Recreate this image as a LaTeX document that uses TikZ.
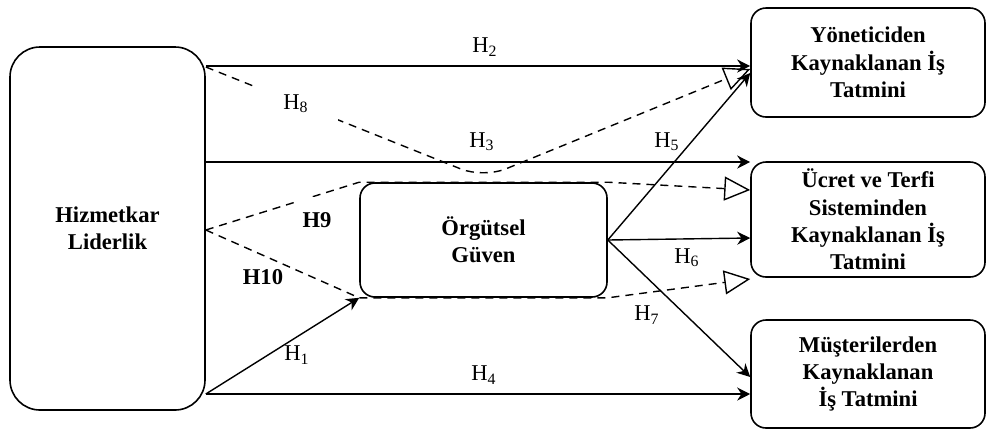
\documentclass[tikz,border=0pt]{standalone}
\usepackage{fontspec}
\setmainfont{Liberation Serif}
\usetikzlibrary{arrows.meta}
\tikzset{
	kutu/.style={draw, line width=0.8pt, rounded corners=7.5pt, inner sep=0pt, align=center, font=\bfseries\fontsize{11.3}{13.7}\selectfont},
	ok/.style={-{Stealth[length=6.5pt,width=6.5pt]}, line width=0.7pt},
	kesik/.style={line width=0.7pt, dash pattern=on 4pt off 3pt, -{Triangle[open,length=13pt,width=12pt,line width=0.7pt]}},
	etiket/.style={font=\fontsize{11.3}{13.7}\selectfont, inner sep=1pt}
}

\begin{document}
\begin{tikzpicture}[x=0.5pt, y=-0.5pt]
		%%%%% START %%%%%
		\useasboundingbox (0,0) rectangle (988,430);
		
		\node[kutu, rounded corners=15pt, minimum width=97.5pt, minimum height=181.5pt] (lider) at (107.5,228.5) {Hizmetkar\\Liderlik};
		\node[kutu, minimum width=123.5pt, minimum height=57pt] (guven) at (483.5,240) {Örgütsel\\Güven};
		
		\node[kutu, minimum width=117pt, minimum height=54.5pt] (yonetici) at (868,62.5) {Yöneticiden\\Kaynaklanan İş\\Tatmini};
		\node[kutu, minimum width=117pt, minimum height=57.5pt] (ucret) at (868,219.5) {Ücret ve Terfi\\Sisteminden\\Kaynaklanan İş\\Tatmini};
		\node[kutu, minimum width=117pt, minimum height=54pt] (musteri) at (868,374) {Müşterilerden\\Kaynaklanan\\İş Tatmini};
		
		% dolayli etkiler
		\draw[kesik, rounded corners=12pt] (lider.east |- 0,67) -- (guven.north |- 0,178) -- (yonetici.west |- 0,69);
		\draw[kesik] (lider.east |- 0,230) -- (guven.north west) -- (guven.north east) -- (ucret.west |- 0,190);
		\draw[kesik] (lider.east |- 0,230) -- (guven.south west) -- (guven.south east) -- (ucret.west |- 0,279);
		
		% dogrudan etkiler
		\draw[ok] (lider.east |- 0,66) -- (yonetici.west |- 0,66);
		\draw[ok] (lider.east |- 0,162) -- (ucret.west |- 0,162);
		\draw[ok] (lider.east |- 0,394) -- (musteri.west |- 0,394);
		\draw[ok] (lider.east |- 0,394) -- (guven.south west);
		\draw[ok] (guven.east) -- (yonetici.west |- 0,73);
		\draw[ok] (guven.east) -- (ucret.west |- 0,238);
		\draw[ok] (guven.east) -- (musteri.west |- 0,377);
		
		\node[etiket] (h1) at (297,355) {H\textsubscript{1}};
		\node[etiket] (h2) at (485,47) {H\textsubscript{2}};
		\node[etiket] (h3) at (482,142) {H\textsubscript{3}};
		\node[etiket] (h4) at (484,375) {H\textsubscript{4}};
		\node[etiket] (h5) at (667,142) {H\textsubscript{5}};
		\node[etiket] (h6) at (687,258) {H\textsubscript{6}};
		\node[etiket] (h7) at (647,315) {H\textsubscript{7}};
		\node[etiket, fill=white, minimum width=42pt, minimum height=17.5pt] (h8) at (296,104) {H\textsubscript{8}};
		\node[etiket, fill=white, minimum width=23pt, minimum height=23pt] (h9) at (317,220) {\textbf{H9}};
		\node[etiket] (h10) at (263,277) {\textbf{H10}};
		%%%%% END %%%%%
\end{tikzpicture}
\end{document}
